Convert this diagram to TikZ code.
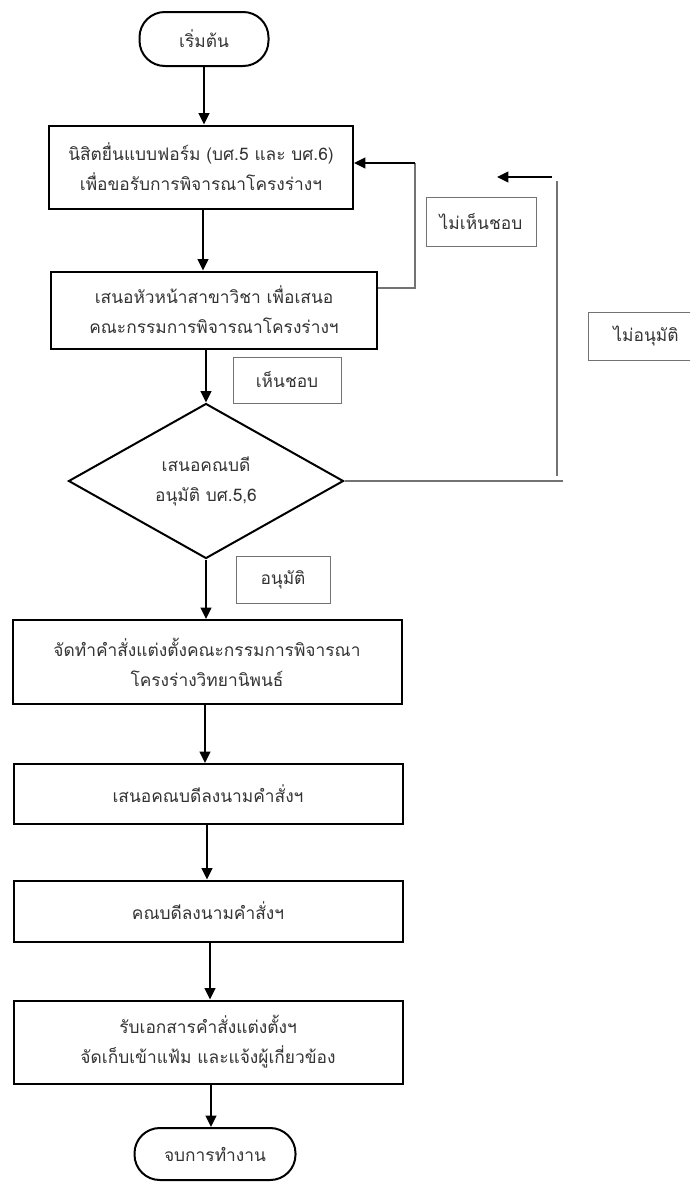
\documentclass[tikz,border=0pt]{standalone}
\usepackage{fontspec}
\newfontfamily\thaifont[Script=Thai]{Loma}
\usetikzlibrary{shapes.geometric,arrows.meta}
\tikzset{
  flowbox/.style={draw,line width=1.5pt,rectangle,align=center,inner sep=2pt},
  termbox/.style={draw,line width=1.5pt,rectangle,rounded corners=19pt,align=center},
  choicebox/.style={draw,line width=1.5pt,diamond,align=center,inner sep=0pt},
  tagbox/.style={draw=black!55,line width=0.7pt,rectangle,align=center},
  flow/.style={->,line width=1.3pt},
  backline/.style={draw=black!55,line width=0.8pt}
}
\begin{document}
\begin{tikzpicture}[>={Triangle[length=8.5pt,width=8pt]},x=0.75pt,y=-0.75pt,
    every node/.style={font=\thaifont\fontsize{13}{22.5}\selectfont,text=black!80}]
	  \clip (0,0) rectangle (690,1182);
	  \useasboundingbox (0,0) rectangle (690,1182);
	  % main column
	  \node[termbox,minimum width=96.75pt,minimum height=40.5pt] (start) at (204,39) {เริ่มต้น};
	  \node[flowbox,minimum width=228pt,minimum height=62.25pt] (form) at (201,167)
	    {นิสิตยื่นแบบฟอร์ม (บศ.5 และ บศ.6)\\เพื่อขอรับการพิจารณาโครงร่างฯ};
	  \node[flowbox,minimum width=244.5pt,minimum height=57.75pt] (head) at (214,310)
	    {เสนอหัวหน้าสาขาวิชา เพื่อเสนอ\\คณะกรรมการพิจารณาโครงร่างฯ};
	  \node[choicebox,minimum width=206.25pt,minimum height=116.25pt] (dean) at (206,481)
	    {เสนอคณบดี\\อนุมัติ บศ.5,6};
	  \node[flowbox,minimum width=291.75pt,minimum height=63pt] (order) at (207,662)
	    {จัดทำคำสั่งแต่งตั้งคณะกรรมการพิจารณา\\โครงร่างวิทยานิพนธ์};
	  \node[flowbox,minimum width=291.75pt,minimum height=45pt] (propose) at (208,794)
	    {เสนอคณบดีลงนามคำสั่งฯ};
	  \node[flowbox,minimum width=291.75pt,minimum height=45.75pt] (sign) at (208,911)
	    {คณบดีลงนามคำสั่งฯ};
	  \node[flowbox,minimum width=291.75pt,minimum height=62.25pt] (file) at (208,1042)
	    {รับเอกสารคำสั่งแต่งตั้งฯ\\จัดเก็บเข้าแฟ้ม และแจ้งผู้เกี่ยวข้อง};
	  \node[termbox,minimum width=120.75pt,minimum height=39pt] (finish) at (215,1154) {จบการทำงาน};
	  % labels
	  \node[tagbox,minimum width=81pt,minimum height=34.5pt] (agree) at (287,380) {เห็นชอบ};
	  \node[tagbox,minimum width=70.5pt,minimum height=35.25pt] (approve) at (283,580) {อนุมัติ};
	  \node[tagbox,minimum width=82.5pt,minimum height=36.75pt] (disagree) at (481,222) {ไม่เห็นชอบ};
	  \node[tagbox,minimum width=87pt,minimum height=36pt] (reject) at (646,336) {ไม่อนุมัติ};
	  % arrows
	  \coordinate (colA) at (203,0);
	  \coordinate (colB) at (206,0);
	  \coordinate (colC) at (205,0);
	  \coordinate (colD) at (207,0);
	  \coordinate (colE) at (210,0);
	  \coordinate (colF) at (211,0);
	  \draw[flow] (start.south) -- (start.south |- form.north);
	  \draw[flow] (form.south -| colA) -- (head.north -| colA);
	  \draw[flow] (head.south -| colB) -- (dean.north);
	  \draw[flow] (dean.south) -- (dean.south |- order.north);
	  \draw[flow] (order.south -| colC) -- (propose.north -| colC);
	  \draw[flow] (propose.south -| colD) -- (sign.north -| colD);
	  \draw[flow] (sign.south -| colE) -- (file.north -| colE);
	  \draw[flow] (file.south -| colF) -- (finish.north -| colF);
	  % back loops
	  \coordinate (loopA) at (415,163);
	  \coordinate (loopB) at (557,181);
	  \coordinate (loopC) at (563,481);
	  \coordinate (loopD) at (557,476);
	  \coordinate (tipR) at (552,177);
	  \coordinate (tipL) at (497,177);
	  \coordinate (rowA) at (0,288);
	  \draw[backline] (head.east |- rowA) -| (loopA);
	  \draw[flow] (loopA) -- (form.east |- loopA);
	  \draw[backline] (dean.east) -- (loopC);
	  \draw[backline] (loopD) -- (loopB);
	  \draw[flow] (tipR) -- (tipL);
	\end{tikzpicture}
\end{document}
